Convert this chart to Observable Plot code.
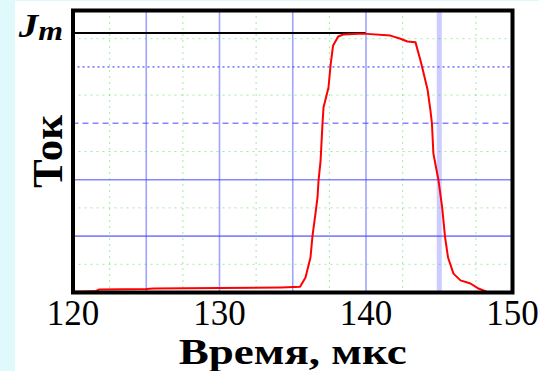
<!DOCTYPE html>
<html>
<head>
<meta charset="utf-8">
<script src="https://cdn.jsdelivr.net/npm/d3@7"></script>
<script src="https://cdn.jsdelivr.net/npm/@observablehq/plot@0.6"></script>
<style>
  html, body { margin: 0; padding: 0; background: #dff9fd; }
  #chart { position: absolute; left: 15px; top: 1px; width: 524px; height: 370px; background: #ffffff; }
  #chart svg { display: block; background: #ffffff; }
</style>
</head>
<body>
<div id="chart"></div>
<script>
// Current pulse: time (µs) and relative current
const time = [120, 121.5, 121.8, 125, 125.5, 130, 134.2, 135.5, 135.87, 136.21, 136.35, 136.55, 136.69, 136.76,
  136.9, 137.03, 137.1, 137.44, 137.58, 137.75, 138.1, 138.45, 139.83, 141.67, 142.35, 142.83, 143.38,
  143.72, 143.83, 144.2, 144.4, 144.5, 144.6, 144.95, 145.2, 145.4, 145.6, 145.97, 146.45, 147.13, 147.68, 148.36];
const current = [0.003, 0.004, 0.011, 0.012, 0.014, 0.016, 0.018, 0.02, 0.053, 0.124, 0.202, 0.28, 0.337, 0.397,
  0.468, 0.599, 0.656, 0.727, 0.805, 0.875, 0.908, 0.915, 0.918, 0.911, 0.9, 0.89, 0.887,
  0.823, 0.8, 0.72, 0.645, 0.6, 0.493, 0.397, 0.301, 0.195, 0.124, 0.067, 0.043, 0.032, 0.014, 0.0];

// Peak current level Jm, marked up to t = 140 µs
const jm = 0.92;
const jmSpan = [120, 140];

// Axis ticks and grid positions
const xTicks = [120, 130, 140, 150];
const majorX = [125, 130, 135, 140, 145];
const minorX = [122.5, 127.5, 132.5, 137.5, 142.5, 147.5];
const majorY = [0.2, 0.4, 0.6, 0.8];
const minorY = [0.1, 0.3, 0.5, 0.7, 0.9];

const pulse = time.map((t, i) => ({t, i: current[i]}));

// dash pattern for each major horizontal grid line
const majorYDash = v => v > 0.7 ? "2,3" : v > 0.5 ? "6,4" : null;

const serif = "'Liberation Serif', 'DejaVu Serif', serif";

const chart = Plot.plot({
  width: 524,
  height: 370,
  marginLeft: 57.5,
  marginRight: 27,
  marginTop: 9,
  marginBottom: 79,
  style: {background: "#ffffff", fontFamily: serif},
  x: {domain: [120, 150]},
  y: {domain: [0, 1]},
  marks: [
    Plot.ruleX(minorX, {stroke: "#55dd55", strokeOpacity: 0.55, strokeWidth: 1, strokeDasharray: "2,4"}),
    Plot.ruleY(minorY, {stroke: "#55dd55", strokeOpacity: 0.55, strokeWidth: 1, strokeDasharray: "2,4"}),
    Plot.ruleX(majorX, {stroke: "#5555ff", strokeOpacity: d => d === 145 ? 0.3 : 0.55, strokeWidth: d => d === 145 ? 5 : 1.6}),
    ...majorY.map(v => Plot.ruleY([v], {stroke: "#4444ff", strokeOpacity: 0.65, strokeWidth: 1.6, strokeDasharray: majorYDash(v)})),
    Plot.ruleY([jm], {x1: jmSpan[0], x2: jmSpan[1], stroke: "#000000", strokeWidth: 2}),
    Plot.line(pulse, {x: "t", y: "i", stroke: "#ff0000", strokeWidth: 2, curve: "linear"}),
    Plot.frame({stroke: "#000000", strokeWidth: 4}),
    Plot.axisX(xTicks, {tickSize: 0, tickPadding: 8, fontSize: 35, fill: "#000000", label: null, tickFormat: d => String(d)}),
    Plot.axisY([], {label: null}),
    Plot.text(["Jm"], {x: 120, y: jm, dx: -10, dy: -6.5, textAnchor: "end", fontSize: 33, fontStyle: "italic", fontWeight: "bold", fill: "#000000"}),
    Plot.text(["Ток"], {frameAnchor: "left", textAnchor: "middle", dx: -24.5, rotate: -90, fontSize: 43, fontWeight: "bold", fill: "#000000"}),
    Plot.text(["Время, мкс"], {frameAnchor: "bottom", textAnchor: "middle", dy: 71, fontSize: 36, fontWeight: "bold", fill: "#000000"})
  ]
});

// Jm label: capital J with a smaller, slightly lowered m
d3.select(chart).selectAll("text").filter(function () { return this.textContent === "Jm"; }).each(function () {
  const t = d3.select(this);
  t.text(null);
  t.append("tspan").text("J");
  t.append("tspan").attr("font-size", 27).attr("dy", 3).text("m");
});

// widen the serif lettering of the labels
const widen = {"Jm": 1.18, "Время, мкс": 1.25};
d3.select(chart).selectAll("text").each(function () {
  const k = widen[this.textContent];
  if (k) {
    const t = this.getAttribute("transform") || "";
    this.setAttribute("transform", `${t} scale(${k},1)`);
  }
});

document.getElementById("chart").appendChild(chart);
</script>
</body>
</html>
